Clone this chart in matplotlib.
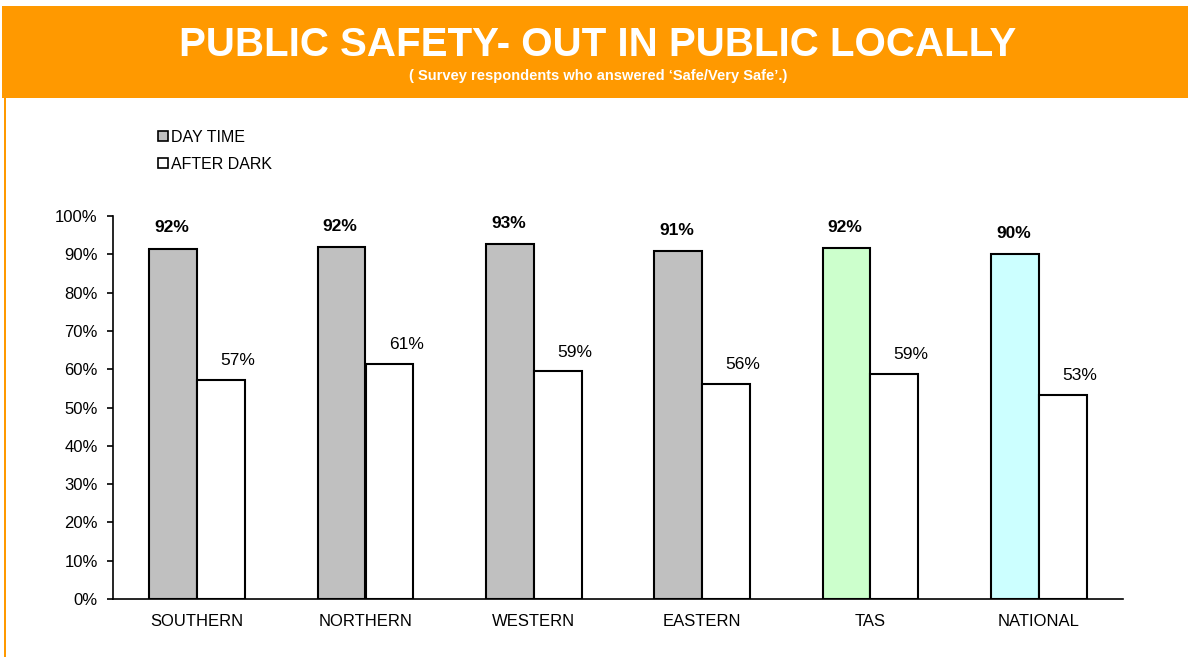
import matplotlib
matplotlib.use("Agg")
import matplotlib.pyplot as plt
from matplotlib.patches import Rectangle, Patch
import numpy as np

plt.rcParams['font.family'] = ['Liberation Sans', 'DejaVu Sans']

categories = ["SOUTHERN", "NORTHERN", "WESTERN", "EASTERN", "TAS", "NATIONAL"]
day_time = [91.5, 91.9, 92.7, 90.9, 91.6, 90.1]
after_dark = [57.2, 61.4, 59.4, 56.1, 58.7, 53.3]
day_colors = ["#C0C0C0", "#C0C0C0", "#C0C0C0", "#C0C0C0", "#CCFFCC", "#CCFFFF"]
yticks = [0, 10, 20, 30, 40, 50, 60, 70, 80, 90, 100]

W, H = 1188, 657
fig = plt.figure(figsize=(W / 100, H / 100), dpi=100)
fig.patch.set_facecolor("white")

orange = "#FF9900"
fig.patches.append(Rectangle((2 / W, 1 - 98 / H), 1 - 2 / W, 92 / H, transform=fig.transFigure,
                             facecolor=orange, edgecolor="none", zorder=0))
fig.patches.append(Rectangle((4 / W, 0), 2 / W, 1 - 98 / H, transform=fig.transFigure,
                             facecolor=orange, edgecolor="none", zorder=0))

fig.text(598 / W, 1 - 45 / H, "PUBLIC SAFETY- OUT IN PUBLIC LOCALLY", color="white",
         fontsize=29, fontweight="bold", ha="center", va="center")
fig.text(598 / W, 1 - 76 / H, "( Survey respondents who answered \u2018Safe/Very Safe\u2019.)",
         color="white", fontsize=10.5, fontweight="bold", ha="center", va="center")

ax = fig.add_axes([113 / W, 1 - 599 / H, (1123 - 113) / W, (599 - 216) / H])
x = np.arange(len(categories))
bw = 0.285
ax.bar(x - bw / 2, day_time, bw, color=day_colors, edgecolor="black", linewidth=1.5, zorder=3)
ax.bar(x + bw / 2, after_dark, bw, color="white", edgecolor="black", linewidth=1.5, zorder=3)
for i, v in enumerate(day_time):
    ax.annotate(f"{v:.0f}%", (x[i] - bw / 2, v), xytext=(-1, 15), textcoords="offset points",
                ha="center", va="center", fontsize=12.5, fontweight="bold")
for i, v in enumerate(after_dark):
    ax.annotate(f"{v:.0f}%", (x[i] + bw / 2, v), xytext=(12, 14), textcoords="offset points",
                ha="center", va="center", fontsize=12.5)

ax.set_xlim(-0.5, len(categories) - 0.5)
ax.set_ylim(0, 100)
ax.set_yticks(yticks)
ax.set_yticklabels([f"{t}%" for t in yticks], fontsize=12)
ax.set_xticks(x)
ax.set_xticklabels(categories, fontsize=12)
ax.tick_params(axis="x", length=0, pad=11)
ax.tick_params(axis="y", length=4, width=1.2, direction="out", pad=7)
for s in ["top", "right"]:
    ax.spines[s].set_visible(False)
ax.spines["left"].set_linewidth(1.2)
ax.spines["bottom"].set_linewidth(1.2)

handles = [Patch(facecolor="#C0C0C0", edgecolor="black", linewidth=1.2),
           Patch(facecolor="white", edgecolor="black", linewidth=1.2)]
fig.legend(handles, ["DAY TIME", "AFTER DARK"], loc="upper left",
           bbox_to_anchor=(158 / W, 1 - 130 / H), frameon=False, fontsize=11.5,
           handlelength=0.6, handleheight=0.6, handletextpad=0.2, labelspacing=0.75,
           borderaxespad=0, borderpad=0)

fig.savefig("out.png", dpi=100)
